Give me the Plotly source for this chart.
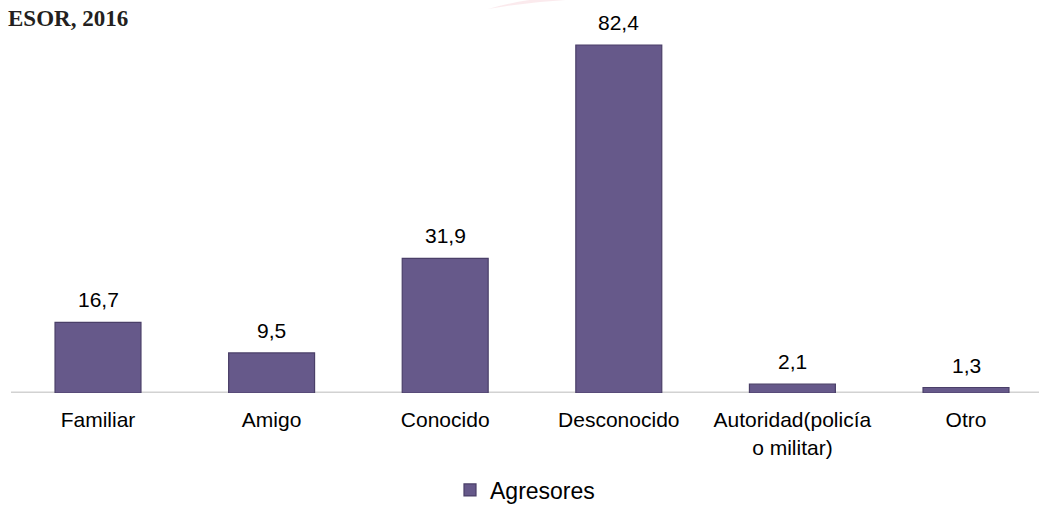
import plotly.graph_objects as go

# Agresores por tipo, 2016 (%)
categorias = ["Familiar", "Amigo", "Conocido", "Desconocido",
              "Autoridad(policía<br>o militar)", "Otro"]
valores = [16.7, 9.5, 31.9, 82.4, 2.1, 1.3]
serie = "Agresores"
titulo = "ESOR, 2016"

W, H = 1039, 506
TOP, BASE = 20, 393          # plot area top and baseline, px
PX_PER_CAT = 173.6
FIRST_CENTER = 98

x_idx = list(range(len(categorias)))
x_lo = -FIRST_CENTER / PX_PER_CAT
x_hi = (W - FIRST_CENTER) / PX_PER_CAT
y_hi = (BASE - TOP) / ((BASE - 45) / 82.4)

font_family = "Arial, Liberation Sans, sans-serif"


def px(x, y):
    """Pixel position -> paper coordinates string for SVG paths."""
    return f"{x / W:.5f},{(BASE - y) / (BASE - TOP):.5f}"


fig = go.Figure()
fig.add_trace(go.Bar(
    x=x_idx,
    y=valores,
    name=serie,
    width=0.495,
    marker=dict(color="#66598a", line=dict(color="#4a3f68", width=1.2)),
    showlegend=True,
))

# value labels above each bar
for i, v in zip(x_idx, valores):
    fig.add_annotation(
        x=i, y=v, xref="x", yref="y",
        text=f"{v:.1f}".replace(".", ","),
        showarrow=False, yanchor="bottom", yshift=9,
        font=dict(family=font_family, size=21, color="#000000"),
    )

# baseline
fig.add_shape(type="line", xref="paper", yref="y",
              x0=11 / W, x1=1, y0=0, y1=0,
              line=dict(color="#d2d2d2", width=3), layer="below")

# faint decorative swoosh at the top edge
fig.add_shape(
    type="path", xref="paper", yref="paper", layer="below",
    path=(f"M {px(488, 9)} Q {px(550, -2)} {px(615, -1)} "
          f"L {px(615, -6)} Q {px(540, -6)} {px(488, 9)} Z"),
    fillcolor="rgba(240,170,185,0.25)", line=dict(width=0),
)

# title fragment at top-left
fig.add_annotation(
    x=130 / W, y=(BASE - 18) / (BASE - TOP), xref="paper", yref="paper",
    text=f"<b>{titulo}</b>", showarrow=False,
    xanchor="right", yanchor="middle",
    font=dict(family="Liberation Serif, Times New Roman, serif", size=23,
              color="#231f20"),
)

fig.update_layout(
    width=W, height=H,
    margin=dict(l=0, r=0, t=TOP, b=H - BASE, pad=0, autoexpand=False),
    paper_bgcolor="white", plot_bgcolor="white",
    font=dict(family=font_family, color="#000000"),
    xaxis=dict(
        range=[x_lo, x_hi], tickmode="array", tickvals=x_idx,
        ticktext=categorias, showgrid=False, zeroline=False, showline=False,
        ticks="outside", ticklen=8, tickcolor="rgba(0,0,0,0)",
        tickfont=dict(size=21, family=font_family, color="#000000"),
        fixedrange=True, automargin=False,
    ),
    yaxis=dict(range=[0, y_hi], visible=False, fixedrange=True,
               automargin=False),
    legend=dict(
        orientation="h", xref="container", yref="container",
        x=450 / W, xanchor="left",
        y=(H - 490) / H, yanchor="middle",
        font=dict(size=23, family=font_family, color="#000000"),
        itemwidth=30,
    ),
    bargap=0.5,
)

fig.write_html("out.html")
